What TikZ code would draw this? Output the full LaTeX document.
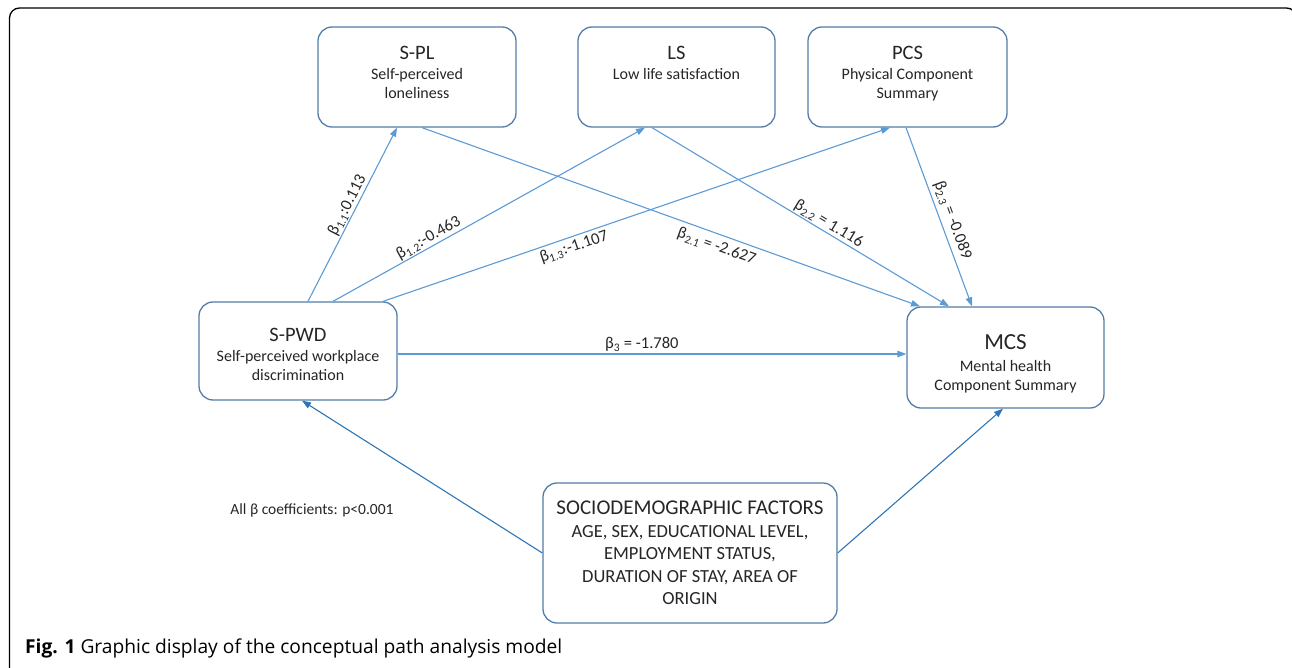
\documentclass[tikz,border=0pt]{standalone}
\usepackage{fontspec}
\setmainfont{Carlito}
\newfontfamily\capfont{Open Sans}
\usetikzlibrary{arrows.meta,calc}
\definecolor{lineblue}{RGB}{91,155,213}
\definecolor{darkblue}{RGB}{46,117,182}
\definecolor{boxborder}{RGB}{84,125,168}
\definecolor{txt}{RGB}{38,38,38}
\begin{document}
\begin{tikzpicture}[x=1pt,y=-1pt,
  box/.style={draw=boxborder, line width=1.3pt, rounded corners=14pt, fill=white, inner sep=0pt},
  boxtext/.style={anchor=north, align=center, inner sep=0pt, text=txt,
    font={\fontsize{16}{19}\selectfont}},
  conn/.style={draw=lineblue, line width=1.1pt, -{Triangle[length=9pt,width=6.5pt]}},
  sconn/.style={draw=darkblue, line width=1.1pt, -{Triangle[length=9pt,width=6.5pt]}},
  elabel/.style={sloped, inner sep=1pt, text=txt, font={\fontsize{16.5}{19}\selectfont}},
  ttl/.style={font={\fontsize{20.5}{24}\selectfont}}
]
\useasboundingbox (0,0) rectangle (1292,668);
\clip (0,0) rectangle (1292,668);

% outer frame
\draw[black, line width=1.3pt, rounded corners=10pt] (9.5,700) -- (9.5,8) -- (1296.5,8) -- (1296.5,700);

% boxes
\node[box, minimum width=198pt, minimum height=100pt] (spl) at (417,77) {};
\node[box, minimum width=197pt, minimum height=100pt] (ls) at (676.5,77) {};
\node[box, minimum width=199pt, minimum height=100pt] (pcs) at (907.5,77) {};
\node[box, minimum width=198pt, minimum height=98pt] (spwd) at (298,351) {};
\node[box, minimum width=197pt, minimum height=101pt] (mcs) at (1005.5,357.5) {};
\node[box, minimum width=294pt, minimum height=140pt, align=center, text=txt,
      font={\fontsize{18.5}{22.5}\selectfont}] (socio) at (690,553)
  {{\fontsize{21}{22.5}\selectfont SOCIODEMOGRAPHIC FACTORS}\\AGE, SEX, EDUCATIONAL LEVEL,\\EMPLOYMENT STATUS,\\DURATION OF STAY, AREA OF\\ORIGIN};

% box texts
\node[boxtext] (spltxt) at ([yshift=-19.6pt]spl.north) {{\fontsize{20.5}{24}\selectfont S-PL}\\[1pt]Self-perceived\\loneliness};
\node[boxtext] (lstxt) at ([yshift=-19.6pt]ls.north) {{\fontsize{20.5}{24}\selectfont LS}\\[1pt]Low life satisfaction};
\node[boxtext] (pcstxt) at ([yshift=-19.6pt]pcs.north) {{\fontsize{20.5}{24}\selectfont PCS}\\[1pt]Physical Component\\Summary};
\node[boxtext] (spwdtxt) at ([yshift=-26.6pt]spwd.north) {{\fontsize{20.5}{24}\selectfont S-PWD}\\[1pt]Self-perceived workplace\\discrimination};
\node[boxtext] (mcstxt) at ([yshift=-28pt]mcs.north) {{\fontsize{23}{26}\selectfont MCS}\\[3pt]Mental health\\Component Summary};

% connectors
\draw[conn] ([xshift=10pt]spwd.north) -- node[elabel, pos=0.53, above] (l11) {β\textsubscript{1.1}:0.113} ([xshift=-20pt]spl.south);
\draw[conn] ([xshift=35pt]spwd.north) -- node[elabel, pos=0.32, above] (l12) {β\textsubscript{1.2}:-0.463} ([xshift=-31.5pt]ls.south);
\draw[conn] ([xshift=85pt]spwd.north) -- node[elabel, pos=0.37, below=2pt] (l13) {β\textsubscript{1.3}:-1.107} ([xshift=-17.5pt]pcs.south);
\draw[conn] ([xshift=5pt]spl.south) -- node[elabel, pos=0.60, below=4pt] (l21) {β\textsubscript{2.1} = -2.627} ([xshift=-85.5pt]mcs.north);
\draw[conn] ([xshift=-24.5pt]ls.south) -- node[elabel, pos=0.58, above=0pt] (l22) {β\textsubscript{2.2} = 1.116} ([xshift=-56.5pt]mcs.north);
\draw[conn] ([xshift=-1.5pt]pcs.south) -- node[elabel, pos=0.54, above=3pt] (l23) {β\textsubscript{2.3} = -0.089} ([xshift=-33.5pt]mcs.north);
\draw[conn] ([yshift=-3pt]spwd.east) -- node[elabel, pos=0.48, above=1pt] (l3) {β\textsubscript{3} = -1.780} ([yshift=3.5pt]mcs.west);
\draw[sconn] (socio.west) -- ([xshift=4pt]spwd.south);
\draw[sconn] (socio.east) -- ([xshift=-2.5pt]mcs.south);

% note
\node[text=txt, font={\fontsize{15.5}{18}\selectfont}] (note) at (312,510) {All β coefficients: p<0.001};

% caption
\node[anchor=base west, inner sep=0pt, text=black] (cap) at (25,653)
  {\capfont\fontsize{19.2}{22}\selectfont\textbf{Fig. 1} Graphic display of the conceptual path analysis model};
\end{tikzpicture}
\end{document}
